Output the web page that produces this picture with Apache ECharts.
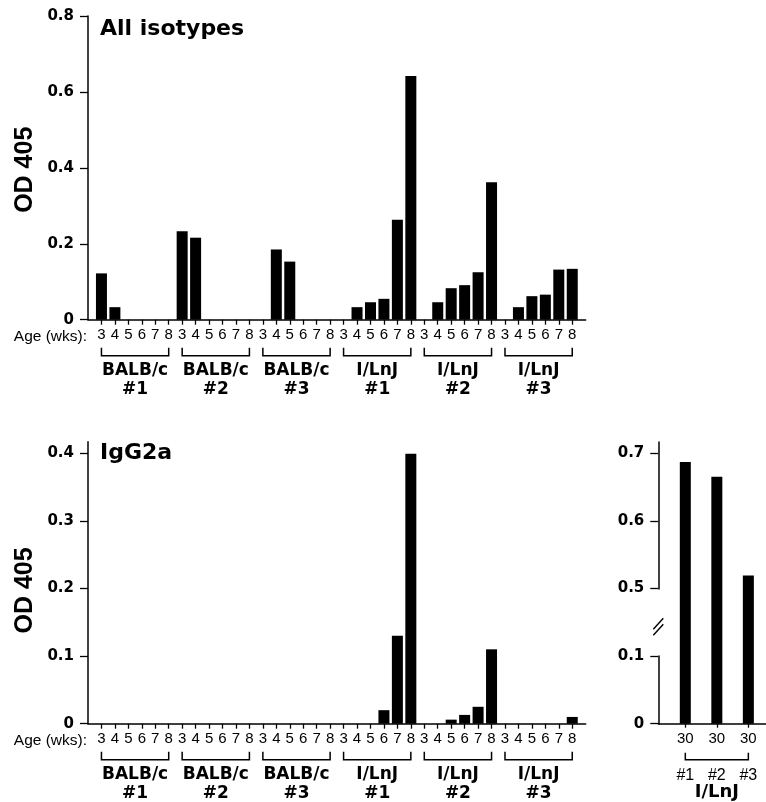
<!DOCTYPE html>
<html><head><meta charset="utf-8">
<script src="https://cdn.jsdelivr.net/npm/echarts@6/dist/echarts.min.js"></script>
<style>html,body{margin:0;padding:0;background:#fff}#c{width:766px;height:802px}</style>
</head><body><div id="c"></div>
<script>
// ---- data ----
const ages = ['3', '4', '5', '6', '7', '8'];
const strains = ['BALB/c', 'BALB/c', 'BALB/c', 'I/LnJ', 'I/LnJ', 'I/LnJ'];
const mouseIds = ['#1', '#2', '#3', '#1', '#2', '#3'];
const allIsotypes = [
  0.122, 0.033, 0, 0, 0, 0,
  0.233, 0.216, 0, 0, 0, 0,
  0, 0.185, 0.153, 0, 0, 0,
  0, 0.033, 0.046, 0.055, 0.263, 0.642,
  0, 0.046, 0.083, 0.091, 0.125, 0.362,
  0, 0.033, 0.062, 0.066, 0.132, 0.134
];
const igg2a = [
  0, 0, 0, 0, 0, 0,
  0, 0, 0, 0, 0, 0,
  0, 0, 0, 0, 0, 0,
  0, 0, 0, 0.020, 0.130, 0.399,
  0, 0, 0.006, 0.013, 0.025, 0.110,
  0, 0, 0, 0, 0, 0.010
];
const topTicks = [0, 0.2, 0.4, 0.6, 0.8];
const bottomTicks = [0, 0.1, 0.2, 0.3, 0.4];
const rightTicks = [0, 0.1, 0.5, 0.6, 0.7];
const rightIds = ['#1', '#2', '#3'];
const rightAges = ['30', '30', '30'];
const rightStrain = 'I/LnJ';
const rightIgg2a = [0.687, 0.665, 0.519];

// ---- build ----
const N = strains.length * ages.length; // 36
const cats = [];
for (let i = 0; i < N + 2; i++) cats.push('c' + i);
const pad = arr => [null].concat(arr, [null]);
const tickFn = i => i > 0 && i < N + 1;
const ageFmt = (v, i) => (i > 0 && i < N + 1) ? ages[(i - 1) % ages.length] : '';
const yFmt = v => v === 0 ? '0' : v.toFixed(1);

const BOLD = '"DejaVu Sans", sans-serif';
const REG = '"Liberation Sans", Arial, sans-serif';

function catX(gi) {
  return {
    type: 'category', gridIndex: gi, data: cats, boundaryGap: false,
    axisLine: {show: true, lineStyle: {color: '#000', width: 1.5}},
    axisTick: {show: true, interval: tickFn, length: 5, lineStyle: {color: '#000', width: 1.3}},
    axisLabel: {interval: 0, formatter: ageFmt, color: '#000', fontFamily: REG, fontSize: 15, margin: 8},
    splitLine: {show: false}
  };
}
function valY(gi, max, ticks, extra) {
  return Object.assign({
    type: 'value', gridIndex: gi, min: 0, max: max,
    axisLine: {show: true, lineStyle: {color: '#000', width: 1.5}},
    axisTick: {show: true, customValues: ticks, length: 8, lineStyle: {color: '#000', width: 1.3}},
    axisLabel: {customValues: ticks, formatter: yFmt, color: '#000', fontFamily: BOLD, fontWeight: 'bold', fontSize: 15, margin: 14},
    splitLine: {show: false}
  }, extra || {});
}

const chart = echarts.init(document.getElementById('c'), null, {renderer: 'canvas'});
const option = {
  animation: false,
  backgroundColor: '#fff',
  grid: [
    {left: 88, width: 497.7, top: 16, height: 303.7},
    {left: 88, width: 497.7, top: 441.7, height: 282},
    {left: 658.3, right: 0, top: 441.7, height: 282}
  ],
  xAxis: [
    catX(0), catX(1),
    {
      type: 'value', gridIndex: 2, min: 0.143, max: 3.56,
      axisLine: {show: true, lineStyle: {color: '#000', width: 1.5}},
      axisTick: {show: true, customValues: [1, 2, 3], length: 4, lineStyle: {color: '#000', width: 1.3}},
      axisLabel: {customValues: [1, 2, 3], formatter: v => rightAges[Math.round(v) - 1] || '', color: '#000', fontFamily: REG, fontSize: 15, margin: 8},
      splitLine: {show: false}
    }
  ],
  yAxis: [
    valY(0, 0.8, topTicks),
    valY(1, 0.417, bottomTicks),
    valY(2, 0.717, rightTicks, {breaks: [{start: 0.1, end: 0.5, gap: 0.1}], breakArea: {show: false}})
  ],
  series: [
    {type: 'bar', xAxisIndex: 0, yAxisIndex: 0, data: pad(allIsotypes), barWidth: 11, itemStyle: {color: '#000'}},
    {type: 'bar', xAxisIndex: 1, yAxisIndex: 1, data: pad(igg2a), barWidth: 11, itemStyle: {color: '#000'}},
    {type: 'bar', xAxisIndex: 2, yAxisIndex: 2, data: rightIgg2a.map((v, i) => [i + 1, v]), barWidth: 11, itemStyle: {color: '#000'}}
  ]
};
chart.setOption(option);

// ---- annotations from axis positions ----
const g = [];
function addGroups(gi) {
  const base = chart.convertToPixel({xAxisIndex: gi, yAxisIndex: gi}, [1, 0]);
  const ay = base[1];
  for (let k = 0; k < strains.length; k++) {
    const x1 = chart.convertToPixel({xAxisIndex: gi}, 1 + k * ages.length);
    const x2 = chart.convertToPixel({xAxisIndex: gi}, (k + 1) * ages.length);
    const yb = ay + 36;
    g.push({type: 'polyline', shape: {points: [[x1, yb - 8], [x1, yb], [x2, yb], [x2, yb - 8]]}, style: {stroke: '#000', lineWidth: 1.5, fill: null}});
    const cx = (x1 + x2) / 2;
    g.push({type: 'text', x: cx, y: ay + 50.5, style: {text: strains[k], fill: '#000', font: 'bold 17px ' + BOLD, align: 'center', verticalAlign: 'middle'}});
    g.push({type: 'text', x: cx, y: ay + 69.5, style: {text: mouseIds[k], fill: '#000', font: 'bold 17px ' + BOLD, align: 'center', verticalAlign: 'middle'}});
  }
  g.push({type: 'text', x: 87, y: ay + 17.5, style: {text: 'Age (wks):', fill: '#000', font: '15.5px ' + REG, align: 'right', verticalAlign: 'middle'}});
}
addGroups(0);
addGroups(1);

// titles and axis names
const y0top = chart.convertToPixel({yAxisIndex: 0}, 0.8);
const ymidTop = chart.convertToPixel({yAxisIndex: 0}, 0.395);
const y0bot = chart.convertToPixel({yAxisIndex: 1}, 0.4);
const ymidBot = chart.convertToPixel({yAxisIndex: 1}, 0.197);
g.push({type: 'text', x: 100, y: y0top + 13, style: {text: 'All isotypes', fill: '#000', font: 'bold 22px ' + BOLD, align: 'left', verticalAlign: 'middle'}});
g.push({type: 'text', x: 100, y: y0bot, style: {text: 'IgG2a', fill: '#000', font: 'bold 22px ' + BOLD, align: 'left', verticalAlign: 'middle'}});
g.push({type: 'text', x: 25, y: ymidTop, rotation: Math.PI / 2, style: {text: 'OD 405', fill: '#000', font: 'bold 25px ' + REG, align: 'center', verticalAlign: 'middle'}});
g.push({type: 'text', x: 25, y: ymidBot, rotation: Math.PI / 2, style: {text: 'OD 405', fill: '#000', font: 'bold 25px ' + REG, align: 'center', verticalAlign: 'middle'}});

// right panel bracket and labels
const r1 = chart.convertToPixel({xAxisIndex: 2, yAxisIndex: 2}, [1, 0]);
const r3 = chart.convertToPixel({xAxisIndex: 2, yAxisIndex: 2}, [3, 0]);
const ryb = r1[1] + 36;
g.push({type: 'polyline', shape: {points: [[r1[0], ryb - 7], [r1[0], ryb], [r3[0], ryb], [r3[0], ryb - 7]]}, style: {stroke: '#000', lineWidth: 1.5, fill: null}});
rightIds.forEach((id, i) => {
  const p = chart.convertToPixel({xAxisIndex: 2, yAxisIndex: 2}, [i + 1, 0]);
  g.push({type: 'text', x: p[0], y: p[1] + 51.5, style: {text: id, fill: '#000', font: '16px ' + REG, align: 'center', verticalAlign: 'middle'}});
});
g.push({type: 'text', x: (r1[0] + r3[0]) / 2, y: r1[1] + 69, style: {text: rightStrain, fill: '#000', font: 'bold 18px ' + BOLD, align: 'center', verticalAlign: 'middle'}});

// axis break mark
const yb1 = chart.convertToPixel({yAxisIndex: 2}, 0.1);
const yb5 = chart.convertToPixel({yAxisIndex: 2}, 0.5);
const ax = chart.convertToPixel({xAxisIndex: 2}, 0.143);
const bm = (yb1 + yb5) / 2 + 5;
g.push({type: 'rect', shape: {x: ax - 3, y: bm - 3, width: 6, height: 6}, style: {fill: '#fff'}, z: 100});
g.push({type: 'line', shape: {x1: ax - 5, y1: bm + 2, x2: ax + 5, y2: bm - 9}, style: {stroke: '#000', lineWidth: 1.4}, z: 101});
g.push({type: 'line', shape: {x1: ax - 5, y1: bm + 8, x2: ax + 5, y2: bm - 3}, style: {stroke: '#000', lineWidth: 1.4}, z: 101});

chart.setOption({graphic: g});
</script></body></html>
